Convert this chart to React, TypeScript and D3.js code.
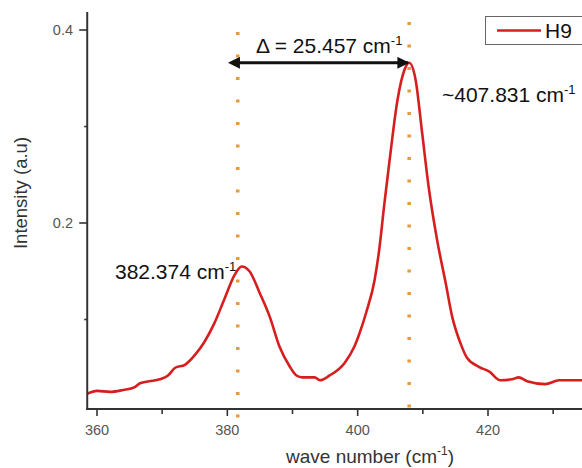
import React, { useRef, useEffect } from 'react';
import * as d3 from 'd3';

// spectrum (wave number in cm-1, intensity in a.u.)
const waveNumbers = [
  358.5, 360, 362, 364, 365.8, 366.6, 368, 369.6, 370.9, 372, 373.5, 375, 376.5, 378, 379.6,
  381.1, 382.2, 383.4, 385, 386.5, 388, 389.6, 390.6, 391.5, 393.4, 394.2, 395.7, 398, 399.5,
  400.3, 401.3, 402.6, 403.3, 404.1, 404.9, 406.1, 407.2, 407.9, 408.9, 409.9, 410.9, 412.2,
  413.5, 414.5, 415.8, 416.8, 418.6, 420.2, 421.9, 423.7, 424.7, 426, 428.8, 430.9, 434, 436,
];
const intensities = [
  0.023, 0.026, 0.025, 0.027, 0.03, 0.034, 0.036, 0.038, 0.042, 0.05, 0.053, 0.063, 0.077, 0.096, 0.122,
  0.146, 0.155, 0.15, 0.127, 0.103, 0.072, 0.051, 0.042, 0.04, 0.04, 0.037, 0.042, 0.055, 0.072,
  0.086, 0.107, 0.141, 0.172, 0.22, 0.265, 0.327, 0.359, 0.366, 0.348, 0.293, 0.237, 0.182,
  0.138, 0.103, 0.075, 0.06, 0.051, 0.046, 0.037, 0.038, 0.04, 0.036, 0.033, 0.037, 0.037, 0.037,
];
const xMajorTicks = [360, 380, 400, 420];
const xMinorTicks = [370, 390, 410, 430];
const yMajorTicks = [0.2, 0.4];
const yMinorTicks = [0.1, 0.3];
const peakLines = [381.6, 407.9];
const arrowLevel = 0.366;
const seriesName = 'H9';

const W = 582;
const H = 468;

const App = () => {
  const svgRef = useRef<SVGSVGElement>(null);

  useEffect(() => {
    const svg = d3.select(svgRef.current);
    svg.selectAll('*').remove();

    const x = d3.scaleLinear().domain([360, 420]).range([97, 488]);
    const y = d3.scaleLinear().domain([0, 0.4]).range([416, 30]);
    const x0 = x(358.5);
    const y0 = 409;
    const yTop = 12;

    const font = 'Liberation Sans, Arial, sans-serif';

    // arrow markers
    const defs = svg.append('defs');
    ['start', 'end'].forEach(k => {
      defs.append('marker')
        .attr('id', 'arr-' + k)
        .attr('viewBox', '0 0 10 10')
        .attr('refX', k === 'end' ? 9 : 1)
        .attr('refY', 5)
        .attr('markerWidth', 5)
        .attr('markerHeight', 4)
        .attr('orient', k === 'end' ? 'auto' : 'auto-start-reverse')
        .append('path')
        .attr('d', 'M0,0 L10,5 L0,10 Z')
        .attr('fill', '#111');
    });

    // dotted orange guides
    svg.selectAll('.guide')
      .data(peakLines)
      .enter().append('line')
      .attr('x1', d => x(d))
      .attr('x2', d => x(d))
      .attr('y1', (d, i) => (i === 0 ? 32 : 22))
      .attr('y2', (d, i) => (i === 0 ? 418 : 408))
      .attr('stroke', '#e89a3a')
      .attr('stroke-width', 3.5)
      .attr('stroke-dasharray', '3 19.5');

    // spectrum
    const pts = waveNumbers.map((w, i) => [w, intensities[i]] as [number, number]);
    const line = d3.line<[number, number]>()
      .x(d => x(d[0]))
      .y(d => y(d[1]))
      .curve(d3.curveMonotoneX);
    svg.append('path')
      .attr('d', line(pts))
      .attr('fill', 'none')
      .attr('stroke', '#d71e1e')
      .attr('stroke-width', 2.6);

    // axes
    const axisColor = '#333';
    svg.append('line').attr('x1', x0).attr('x2', x0).attr('y1', yTop).attr('y2', y0 + 1)
      .attr('stroke', axisColor).attr('stroke-width', 2);
    svg.append('line').attr('x1', x0 - 1).attr('x2', W).attr('y1', y0).attr('y2', y0)
      .attr('stroke', axisColor).attr('stroke-width', 2);

    svg.selectAll('.xt')
      .data(xMajorTicks.concat(xMinorTicks))
      .enter().append('line')
      .attr('x1', d => x(d)).attr('x2', d => x(d))
      .attr('y1', y0).attr('y2', d => y0 + (xMajorTicks.includes(d) ? 7 : 5))
      .attr('stroke', axisColor).attr('stroke-width', 1.6);
    svg.selectAll('.yt')
      .data(yMajorTicks.concat(yMinorTicks))
      .enter().append('line')
      .attr('x1', x0).attr('x2', d => x0 - (yMajorTicks.includes(d) ? 8 : 3))
      .attr('y1', d => y(d)).attr('y2', d => y(d))
      .attr('stroke', axisColor).attr('stroke-width', 1.6);

    svg.selectAll('.xl')
      .data(xMajorTicks)
      .enter().append('text')
      .attr('x', d => x(d)).attr('y', 435)
      .attr('text-anchor', 'middle')
      .attr('font-family', font).attr('font-size', 14.5)
      .attr('fill', '#555')
      .text(d => d);
    svg.selectAll('.yl')
      .data(yMajorTicks)
      .enter().append('text')
      .attr('x', 73).attr('y', d => y(d) + 5)
      .attr('text-anchor', 'end')
      .attr('font-family', font).attr('font-size', 14.5)
      .attr('fill', '#555')
      .text(d => d.toFixed(1));

    // axis titles
    const xt = svg.append('text')
      .attr('x', 370).attr('y', 463)
      .attr('text-anchor', 'middle')
      .attr('font-family', font).attr('font-size', 19)
      .attr('fill', '#333');
    xt.append('tspan').text('wave number (cm');
    xt.append('tspan').attr('dy', -8).attr('font-size', 12).text('-1');
    xt.append('tspan').attr('dy', 8).text(')');

    svg.append('text')
      .attr('transform', 'translate(27,193) rotate(-90)')
      .attr('text-anchor', 'middle')
      .attr('font-family', font).attr('font-size', 18.5)
      .attr('fill', '#333')
      .text('Intensity (a.u)');

    // delta arrow
    svg.append('line')
      .attr('x1', x(peakLines[0]) + 1).attr('x2', x(peakLines[1]) - 1)
      .attr('y1', y(arrowLevel)).attr('y2', y(arrowLevel))
      .attr('stroke', '#111').attr('stroke-width', 3)
      .attr('marker-start', 'url(#arr-start)')
      .attr('marker-end', 'url(#arr-end)');

    const annot = (tx: number, ty: number, main: string) => {
      const t = svg.append('text')
        .attr('x', tx).attr('y', ty)
        .attr('font-family', font).attr('font-size', 21)
        .attr('fill', '#111');
      t.append('tspan').text(main);
      t.append('tspan').attr('dy', -8).attr('font-size', 13).text('-1');
    };
    annot(256, 53, '\u0394 = 25.457 cm');
    annot(442, 102, '~407.831 cm');
    annot(115, 279, '382.374 cm');

    // legend
    svg.append('rect')
      .attr('x', 485.5).attr('y', 16.5).attr('width', 110).attr('height', 28)
      .attr('fill', '#fff').attr('stroke', '#666').attr('stroke-width', 1);
    svg.append('line')
      .attr('x1', 497).attr('x2', 541).attr('y1', 30.5).attr('y2', 30.5)
      .attr('stroke', '#d71e1e').attr('stroke-width', 2.6);
    svg.append('text')
      .attr('x', 545).attr('y', 38)
      .attr('font-family', font).attr('font-size', 21)
      .attr('fill', '#111')
      .text(seriesName);
  }, []);

  return (
    <svg
      ref={svgRef}
      width={W}
      height={H}
      style={{ position: 'absolute', left: 0, top: 0, background: '#fff', overflow: 'hidden' }}
    />
  );
};

export default App;
